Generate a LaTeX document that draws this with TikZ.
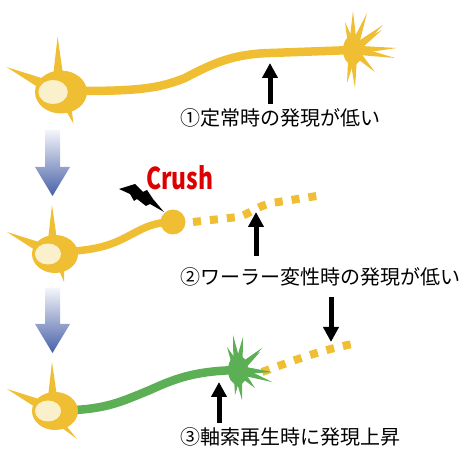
\documentclass[tikz,border=0pt]{standalone}
\usepackage{fontspec}
\setmainfont{Noto Sans CJK JP}
\usetikzlibrary{arrows.meta,calc,shapes.geometric}
\definecolor{cellyellow}{HTML}{F0BE32}
\definecolor{nucleus}{HTML}{FBF0CC}
\definecolor{regrow}{HTML}{5CAF55}
\definecolor{stepblue}{HTML}{4760A8}
\definecolor{crushred}{HTML}{DD0000}

\tikzset{
  soma/.pic={
    \fill[cellyellow] (-3,-49) -- (-7,-14) -- (2,-14) -- cycle;
    \fill[cellyellow] (-48,-22) -- (-16,-12) -- (-20,-4) -- cycle;
    \fill[cellyellow] (#1,28) -- (3,14) -- (9,12) -- cycle;
    \node[ellipse, fill=cellyellow, minimum width=46, minimum height=38,
          inner sep=0, transform shape] (-body) at (0,0) {};
    \fill[nucleus] (-7,0) ellipse [x radius=13, y radius=10.5];
  },
  axon/.style={line width=8.5pt, line cap=round},
  degen/.style={cellyellow, line width=8pt, dash pattern=on 8pt off 9pt},
  ptr/.style={-{Triangle[length=15pt, width=15pt]}, line width=5pt},
  lbl/.style={anchor=west, inner sep=0, font=\fontsize{20}{20}\selectfont},
}

% growth cone: centre, colour, finger tips
\newcommand\cone[3]{%
  \fill[#2] (#1) ellipse [x radius=10, y radius=15];
  \foreach \t in {#3}
    \fill[#2] ($(#1)!4.5pt!90:\t$) -- \t -- ($(#1)!4.5pt!-90:\t$) -- cycle;
}

% stage arrow between neurons
\newcommand\stagearrow[2]{%
  \shade[top color=stepblue!6, bottom color=stepblue]
    (45,#1) -- (60,#1) -- (60,#2-29) -- (70,#2-29) -- (52.5,#2)
    -- (35,#2-29) -- (45,#2-29) -- cycle;
}

\begin{document}
\begin{tikzpicture}[x=1pt, y=-1pt]
\useasboundingbox (0,0) rectangle (464,449);

% intact neuron
\coordinate (gc1) at (353,50);
\draw[axon, cellyellow] (80,91) .. controls (140,91) and (160,88) .. (185,78)
  .. controls (215,62) and (235,54) .. (270,53) -- (gc1);
\cone{gc1}{cellyellow}{(345,22),(353,11),(367,13),(383,25),(382,30),(397,48),
  (395,58),(375,72),(367,64),(355,88),(347,83)}
\pic[scale=1.13] (n1) at (61,92) {soma=11};
\node[lbl] (note1) at (180,118) {①定常時の発現が低い};
\coordinate (t1) at (270,104);
\coordinate (h1) at (270,63);
\draw[ptr] (t1) -- (h1);

\stagearrow{130}{196}

% crushed neuron
\node[circle, fill=cellyellow, minimum size=25, inner sep=0] (cut) at (173,222) {};
\draw[axon, line width=7.5pt, cellyellow] (75,251) .. controls (110,248) and (120,240) .. (140,230)
  .. controls (150,225) and (160,222) .. (cut.center);
\draw[degen] (193,222) -- (238,217) .. controls (250,214) and (257,206) .. (272,203) -- (323,195);
\pic (n2) at (55,254) {soma=9};
\fill (119,189) -- (135,184) -- (143,192) -- (147,190) -- (153,199) -- (164,212)
  -- (150,204) -- (146,206) -- (137,199) -- (134,201) -- (130,194) -- cycle;
\node[anchor=west, inner sep=0, text=crushred, font=\bfseries\fontsize{30}{30}\selectfont]
  (crush) at (146,178) {\scalebox{0.76}[1]{Crush}};
\node[lbl] (note2) at (180,277) {②ワーラー変性時の発現が低い};
\coordinate (t2) at (256,256);
\coordinate (h2) at (256,212);
\draw[ptr] (t2) -- (h2);
\coordinate (t3) at (331,297);
\coordinate (h3) at (331,342);
\draw[ptr] (t3) -- (h3);

\stagearrow{288}{353}

% regenerating neuron
\coordinate (gc3) at (238,370);
\draw[degen] (262,372) .. controls (290,362) and (320,350) .. (353,344);
\draw[axon, regrow] (75,410) .. controls (110,408) and (125,400) .. (150,390)
  .. controls (180,376) and (200,371) .. (gc3);
\cone{gc3}{regrow}{(227,347),(233,335),(243,337),(262,348),(260,352),(272,372),
  (272,382),(255,388),(242,400),(235,395)}
\pic (n3) at (55,411) {soma=22};
\node[lbl] (note3) at (180,437) {③軸索再生時に発現上昇};
\coordinate (t4) at (219,423);
\coordinate (h4) at (219,382);
\draw[ptr] (t4) -- (h4);
\end{tikzpicture}
\end{document}
